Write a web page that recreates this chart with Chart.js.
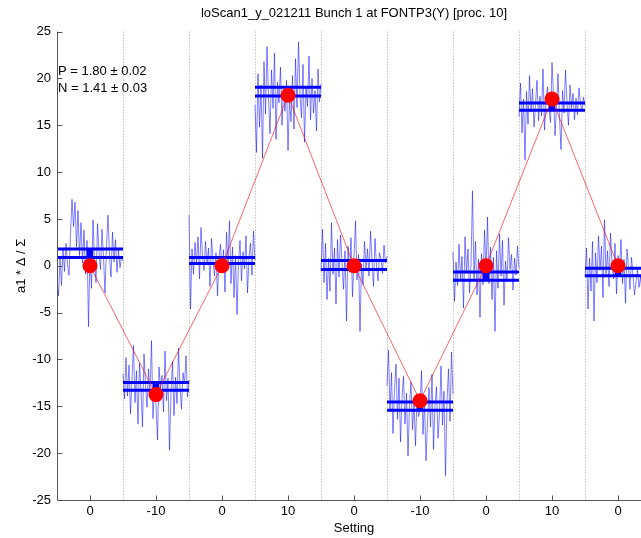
<!DOCTYPE html>
<html>
<head>
<meta charset="utf-8">
<script src="https://cdn.jsdelivr.net/npm/chart.js@4/dist/chart.umd.min.js"></script>
<style>
  html, body { margin: 0; padding: 0; background: #fff; overflow: hidden; }
</style>
</head>
<body>
<canvas id="scanChart" width="670" height="538"></canvas>
<script>
// setting per step and its tick label
const settingLabels = ["0", "-10", "0", "10", "0", "-10", "0", "10", "0"];

// fitted response (red dots)
const fitValues = [0, -13.75, 0, 18.2, 0, -14.4, 0, 17.8, 0];

// measured mean and its error per step
const stepMeans = [1.34, -12.88, 0.57, 18.59, 0.09, -14.98, -1.1, 16.99, -0.66];
const stepErrors = [0.45, 0.41, 0.32, 0.46, 0.48, 0.45, 0.43, 0.39, 0.41];

// raw pulse readings per step
const rawSteps = [
    [-1.5, -3.2, 0.8, -2.1, 1.9, -0.6, 2.4, 0.2, -1.0, 3.5, 7.1, 4.2, 6.8, 2.0, 5.9, 1.1, 4.6, 0.3, 3.8, -0.9, 2.7, -6.5, 1.2, -2.4, 4.9, 0.6, -1.8, 4.5, 1.5, -0.4, 3.9, 0.9, -2.9, 2.2, 5.4, 1.0, -1.2, 3.6, 0.4, 2.8, -0.7, 1.7, -0.2, 0.9, 0.5],
    [-11.5, -14.2, -9.8, -13.9, -10.6, -15.8, -12.1, -8.5, -14.6, -11.2, -16.9, -10.4, -13.3, -17.2, -9.4, -12.7, -15.1, -11.0, -13.8, -8.0, -16.3, -12.5, -14.9, -18.6, -10.8, -13.1, -11.7, -15.6, -9.1, -14.4, -12.0, -19.7, -13.5, -10.2, -16.0, -11.9, -14.7, -8.8, -13.0, -15.3, -11.4, -12.6, -9.6, -14.0, -12.2],
    [5.4, -4.6, 1.8, -0.9, 2.5, 0.3, 3.1, -1.4, 4.1, 1.0, -0.5, 2.6, 0.1, 1.9, -2.2, 2.9, 0.6, -1.1, 1.4, -3.2, 0.8, 2.3, -0.6, 1.7, -2.8, 3.6, 0.2, 4.8, -1.9, 2.0, -3.4, 1.1, -5.2, 0.4, 2.7, -1.6, 1.5, -0.3, 3.2, -2.9, 0.9, 2.4, -1.0, 3.7, 0.6],
    [17.2, 12.1, 20.5, 14.8, 19.3, 11.5, 21.8, 16.2, 23.4, 18.0, 14.1, 20.9, 16.8, 22.7, 13.5, 19.6, 17.4, 21.2, 15.0, 18.9, 16.5, 19.8, 12.3, 17.7, 15.4, 20.3, 14.6, 22.1, 16.9, 23.9, 18.3, 15.8, 21.5, 13.2, 19.1, 17.0, 22.4, 15.6, 20.0, 16.3, 18.7, 14.4, 21.0, 17.5, 19.4],
    [-0.5, 3.9, -1.8, 2.4, -3.6, 0.8, -2.7, 4.6, -0.9, 1.9, -4.1, 2.8, -1.2, 3.3, 0.4, -2.5, 1.6, -5.9, 2.1, -0.7, 3.0, -3.3, 0.9, 4.8, -1.5, 1.2, -7.0, 0.2, -2.0, 2.6, -0.3, 1.8, -1.1, 3.7, 0.6, -2.2, 2.9, 0.1, -1.6, 1.4, 0.7, -0.8, 2.2, 0.3, 1.0],
    [-12.8, -9.0, -15.6, -11.4, -17.9, -13.2, -10.5, -16.4, -12.0, -18.8, -14.1, -11.8, -16.9, -13.6, -20.3, -15.0, -12.4, -17.5, -14.7, -19.2, -13.9, -16.1, -15.3, -11.2, -18.0, -14.3, -20.8, -16.7, -13.0, -17.2, -11.6, -19.6, -14.9, -12.9, -18.4, -15.8, -10.7, -17.0, -13.4, -22.4, -14.5, -11.0, -16.6, -9.2, -13.7],
    [1.5, -3.8, 0.4, -2.1, 2.3, -1.6, 1.0, -4.5, 3.1, -0.8, 1.8, -2.9, 0.2, 8.0, -1.4, 2.6, -3.1, 0.7, -5.5, 1.3, -2.0, 3.8, -0.6, 5.2, -1.9, 2.0, -3.6, 0.9, -7.0, 1.6, -2.4, 3.4, -1.1, 2.7, -4.2, 0.5, -1.7, 3.0, -0.4, 1.2, -2.6, 0.8, -1.0, 2.1, -0.3],
    [15.9, 19.5, 14.2, 17.8, 11.3, 18.6, 15.1, 20.3, 16.4, 18.9, 14.8, 17.2, 19.8, 15.5, 18.1, 16.0, 21.0, 14.5, 17.6, 19.1, 16.7, 15.3, 21.7, 18.2, 13.9, 17.0, 20.5, 15.8, 12.4, 18.7, 16.3, 20.9, 17.4, 15.0, 19.3, 16.8, 18.4, 15.6, 17.9, 16.1, 19.0, 17.3, 16.5, 18.0, 17.1],
    [-1.2, 1.9, -4.6, 0.8, -2.7, 2.6, -5.9, 1.4, -1.8, 3.2, -0.5, 2.1, -3.4, 4.9, -0.9, 1.6, -2.2, 3.5, 0.3, -1.4, 2.4, -3.0, 1.1, -0.6, 2.8, -1.9, 0.7, -4.0, 1.8, -0.2, -2.5, 0.9, -1.0, -3.1, -1.7, -0.4, -2.3, -1.2, -2.8, -1.5, -3.5, -2.0, -2.6, -1.8, -3.0]
];

const yTicks = [-25, -20, -15, -10, -5, 0, 5, 10, 15, 20, 25];
const fitText = ["P = 1.80 \u00b1 0.02", "N = 1.41 \u00b1 0.03"];

const FONT = "'Liberation Sans', Arial, sans-serif";

// each step's readings spread evenly across its slot
function traceData(values, step) {
    const n = values.length;
    return values.map((v, k) => ({ x: step - 0.5 + k / (n - 1), y: v }));
}

// horizontal bar across every slot at mean + sign * error, gaps between slots
function levelData(sign) {
    const pts = [];
    stepMeans.forEach((m, i) => {
        const y = m + sign * stepErrors[i];
        pts.push({ x: i - 0.5, y: y }, { x: i + 0.5, y: y }, { x: i + 0.5, y: null });
    });
    return pts;
}

const datasets = [];

datasets.push({
    label: "fit",
    data: fitValues.map((v, i) => ({ x: i, y: v })),
    borderColor: "rgba(255,0,0,0.6)",
    borderWidth: 1,
    pointRadius: 7.5,
    pointBackgroundColor: "#ff0000",
    pointBorderColor: "#ff0000",
    pointBorderWidth: 0,
    order: 1
});

datasets.push({
    label: "mean",
    data: stepMeans.map((v, i) => ({ x: i, y: v })),
    showLine: false,
    pointStyle: "rect",
    pointRadius: 4.5,
    pointBackgroundColor: "#0000ff",
    pointBorderColor: "#0000ff",
    pointBorderWidth: 0,
    order: 2
});

[1, -1].forEach(sign => {
    datasets.push({
        label: "level",
        data: levelData(sign),
        borderColor: "#0000ff",
        borderWidth: 3,
        pointRadius: 0,
        spanGaps: false,
        order: 3
    });
});

rawSteps.forEach((values, i) => {
    datasets.push({
        label: "raw " + i,
        data: traceData(values, i),
        borderColor: "rgba(0,0,255,0.5)",
        borderWidth: 1,
        pointRadius: 0,
        order: 4
    });
});

// dotted slot separators, axis lines with inward ticks, fit result text
const framePlugin = {
    id: "frame",
    beforeDatasetsDraw(chart) {
        const { ctx, chartArea: a, scales: { x } } = chart;
        ctx.save();
        ctx.strokeStyle = "#a0a0a0";
        ctx.lineWidth = 1;
        ctx.setLineDash([1, 2]);
        for (let i = 0; i < settingLabels.length - 1; i++) {
            const px = Math.round(x.getPixelForValue(i + 0.5)) + 0.5;
            ctx.beginPath();
            ctx.moveTo(px, a.top);
            ctx.lineTo(px, a.bottom);
            ctx.stroke();
        }
        ctx.restore();
    },
    afterDraw(chart) {
        const { ctx, chartArea: a, scales: { x, y } } = chart;
        ctx.save();
        ctx.strokeStyle = "#555";
        ctx.lineWidth = 1;
        const left = Math.round(a.left) + 0.5;
        const bottom = Math.round(a.bottom) + 0.5;
        ctx.beginPath();
        ctx.moveTo(left, a.top);
        ctx.lineTo(left, bottom);
        ctx.lineTo(a.right, bottom);
        yTicks.forEach(v => {
            const py = Math.round(y.getPixelForValue(v)) + 0.5;
            ctx.moveTo(left, py);
            ctx.lineTo(left + 5, py);
        });
        settingLabels.forEach((s, i) => {
            const px = Math.round(x.getPixelForValue(i)) + 0.5;
            ctx.moveTo(px, bottom);
            ctx.lineTo(px, bottom - 5);
        });
        ctx.stroke();

        ctx.fillStyle = "#000";
        ctx.font = "13px " + FONT;
        ctx.textBaseline = "middle";
        ctx.textAlign = "left";
        ctx.fillText(fitText[0], a.left + 1, 71);
        ctx.fillText(fitText[1], a.left + 1, 88);
        ctx.restore();
    }
};

new Chart(document.getElementById("scanChart"), {
    type: "line",
    data: { datasets: datasets },
    options: {
        responsive: false,
        animation: false,
        layout: { padding: { left: 0, right: 19, top: 0, bottom: 0 } },
        plugins: {
            legend: { display: false },
            tooltip: { enabled: false },
            title: {
                display: true,
                text: "loScan1_y_021211 Bunch 1 at FONTP3(Y) [proc. 10]",
                fullSize: false,
                color: "#000",
                font: { family: FONT, size: 13, weight: "normal" },
                padding: { top: 6, bottom: 10 }
            }
        },
        scales: {
            x: {
                type: "linear",
                min: -0.5,
                max: 8.5,
                grid: { display: false, drawTicks: false },
                border: { display: false },
                afterBuildTicks(scale) {
                    scale.ticks = settingLabels.map((s, i) => ({ value: i }));
                },
                afterFit(scale) { scale.height = 38; },
                ticks: {
                    color: "#000",
                    padding: 4,
                    maxRotation: 0,
                    autoSkip: false,
                    font: { family: FONT, size: 13 },
                    callback: v => settingLabels[v]
                },
                title: {
                    display: true,
                    text: "Setting",
                    color: "#000",
                    font: { family: FONT, size: 13 },
                    padding: { top: 0, bottom: 2 }
                }
            },
            y: {
                min: -25,
                max: 25,
                grid: { display: false, drawTicks: false },
                border: { display: false },
                afterBuildTicks(scale) {
                    scale.ticks = yTicks.map(v => ({ value: v }));
                },
                afterFit(scale) { scale.width = 57; },
                ticks: {
                    color: "#000",
                    padding: 6,
                    font: { family: FONT, size: 13 }
                },
                title: {
                    display: true,
                    text: "a1 * \u0394 / \u03a3",
                    color: "#000",
                    font: { family: FONT, size: 13 },
                    padding: { top: 14, bottom: 0 }
                }
            }
        }
    },
    plugins: [framePlugin]
});
</script>
</body>
</html>
